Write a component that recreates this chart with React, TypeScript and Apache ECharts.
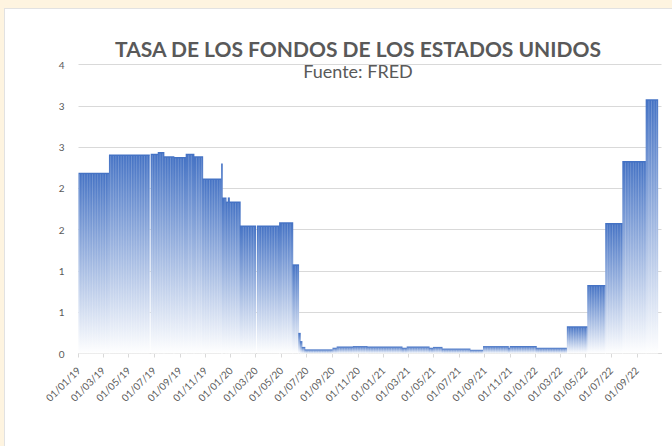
import React, { useEffect, useRef } from "react";
import * as echarts from "echarts";

const chartTitle = "TASA DE LOS FONDOS DE LOS ESTADOS UNIDOS";
const chartSubtitle = "Fuente: FRED";

const xTickLabels = [
  "01/01/19", "01/03/19", "01/05/19", "01/07/19", "01/09/19", "01/11/19",
  "01/01/20", "01/03/20", "01/05/20", "01/07/20", "01/09/20", "01/11/20",
  "01/01/21", "01/03/21", "01/05/21", "01/07/21", "01/09/21", "01/11/21",
  "01/01/22", "01/03/22", "01/05/22", "01/07/22", "01/09/22",
];

const axisStart = "2019-01-01";
const axisEnd = "2022-10-30";

const periodStart = [
  "2019-01-01", "2019-03-15", "2019-06-23", "2019-07-10", "2019-07-24", "2019-08-17",
  "2019-09-15", "2019-10-04", "2019-10-25", "2019-12-09", "2019-12-11", "2019-12-20",
  "2019-12-25", "2019-12-28", "2020-01-23", "2020-03-04", "2020-04-26", "2020-05-28",
  "2020-06-11", "2020-06-15", "2020-06-19", "2020-06-26", "2020-09-01", "2020-09-11",
  "2020-10-20", "2020-11-22", "2021-02-14", "2021-02-26", "2021-04-20", "2021-04-30",
  "2021-05-21", "2021-07-27", "2021-08-28", "2021-10-27", "2021-10-31", "2022-01-02",
  "2022-03-17", "2022-05-05", "2022-06-17", "2022-07-28", "2022-09-22",
];
const periodEnd = [
  "2019-03-15", "2019-06-21", "2019-07-10", "2019-07-24", "2019-08-17", "2019-09-15",
  "2019-10-04", "2019-10-25", "2019-12-09", "2019-12-11", "2019-12-20", "2019-12-25",
  "2019-12-28", "2020-01-23", "2020-03-02", "2020-04-26", "2020-05-28", "2020-06-11",
  "2020-06-15", "2020-06-19", "2020-06-26", "2020-09-01", "2020-09-11", "2020-10-20",
  "2020-11-22", "2021-02-14", "2021-02-26", "2021-04-20", "2021-04-30", "2021-05-21",
  "2021-07-27", "2021-08-28", "2021-10-27", "2021-10-31", "2022-01-02", "2022-03-17",
  "2022-05-05", "2022-06-17", "2022-07-28", "2022-09-22", "2022-10-22",
];
const rate = [
  2.19, 2.41, 2.42, 2.44, 2.39, 2.38,
  2.42, 2.39, 2.12, 2.30, 1.89, 1.84,
  1.89, 1.84, 1.55, 1.55, 1.59, 1.08,
  0.25, 0.15, 0.08, 0.05, 0.07, 0.085,
  0.09, 0.085, 0.07, 0.085, 0.07, 0.08,
  0.06, 0.045, 0.09, 0.07, 0.09, 0.07,
  0.33, 0.83, 1.58, 2.33, 3.08,
];

const yMin = 0;
const yMax = 3.5;
const yInterval = 0.5;

function isoTs(s: string): number {
  const [y, m, d] = s.split("-").map(Number);
  return Date.UTC(y, m - 1, d);
}
function labelTs(s: string): number {
  const [d, m, y] = s.split("/").map(Number);
  return Date.UTC(2000 + y, m - 1, d);
}

export default function App() {
  const ref = useRef<HTMLDivElement>(null);

  useEffect(() => {
    if (!ref.current) return;
    const chart = echarts.init(ref.current, undefined, { renderer: "svg" });
    const tickValues = xTickLabels.map(labelTs);
    const labelMap = new Map<number, string>();
    xTickLabels.forEach((l) => labelMap.set(labelTs(l), l));
    const data = rate.map((v, i) => [isoTs(periodStart[i]), isoTs(periodEnd[i]), v]);
    const stripeStep = 2.6;

    chart.setOption({
      animation: false,
      backgroundColor: "transparent",
      textStyle: { fontFamily: "Lato" },
      graphic: [
        {
          type: "text",
          x: 358,
          y: 48,
          style: {
            text: chartTitle,
            font: "bold 21px Lato",
            fill: "#595959",
            align: "center",
            verticalAlign: "middle",
          },
        },
        {
          type: "text",
          x: 358,
          y: 71,
          style: {
            text: chartSubtitle,
            font: "18px Lato",
            fill: "#595959",
            align: "center",
            verticalAlign: "middle",
          },
        },
      ],
      grid: { left: 78.5, right: 10.5, top: 64.5, bottom: 92.5, containLabel: false },
      xAxis: {
        type: "value",
        min: isoTs(axisStart),
        max: isoTs(axisEnd),
        axisLine: { show: true, lineStyle: { color: "#D9D9D9", width: 1 } },
        axisTick: {
          show: true,
          customValues: tickValues,
          length: 4,
          lineStyle: { color: "#D9D9D9" },
        },
        axisLabel: {
          customValues: tickValues,
          rotate: 45,
          fontSize: 10,
          color: "#595959",
          fontFamily: "Lato",
          margin: 15,
          formatter: (v: number) => labelMap.get(v) ?? "",
        },
        splitLine: { show: false },
      },
      yAxis: {
        type: "value",
        min: yMin,
        max: yMax,
        interval: yInterval,
        axisLine: { show: false },
        axisTick: { show: false },
        axisLabel: {
          fontSize: 10,
          color: "#595959",
          fontFamily: "Lato",
          margin: 14,
          formatter: (v: number) => String(Math.round(v)),
        },
        splitLine: { lineStyle: { color: "#D9D9D9", width: 1 } },
      },
      series: [
        {
          type: "custom",
          data,
          encode: { x: [0, 1], y: 2 },
          renderItem: (params: any, api: any) => {
            const i = params.dataIndex;
            const s = api.coord([api.value(0), api.value(2)]);
            const e = api.coord([api.value(1), 0]);
            const origin = api.coord([isoTs(axisStart), 0]);
            const joined = i < periodStart.length - 1 && periodEnd[i] === periodStart[i + 1];
            const w = e[0] - s[0] + (joined ? 0.8 : 0);
            const h = e[1] - s[1];
            const children: any[] = [
              {
                type: "rect",
                shape: { x: s[0], y: s[1], width: w, height: h },
                style: {
                  fill: new echarts.graphic.LinearGradient(0, 0, 0, 1, [
                    { offset: 0, color: "#4472C4" },
                    { offset: 1, color: "#FFFFFF" },
                  ]),
                },
              },
            ];
            const k0 = Math.ceil((s[0] - origin[0]) / stripeStep);
            for (let k = k0; origin[0] + k * stripeStep < e[0]; k++) {
              const x = origin[0] + k * stripeStep + 1;
              if (x >= e[0]) break;
              children.push({
                type: "line",
                shape: { x1: x, y1: s[1] + 1.5, x2: x, y2: e[1] },
                style: { stroke: "rgba(255,255,255,0.28)", lineWidth: 0.7 },
                silent: true,
              });
            }
            return { type: "group", children };
          },
        },
      ],
    });
    return () => chart.dispose();
  }, []);

  return (
    <div
      style={{
        position: "fixed",
        left: 0,
        top: 0,
        width: 672,
        height: 446,
        background: "#FEF4E0",
        overflow: "hidden",
      }}
    >
      <div
        style={{
          position: "absolute",
          left: 4,
          top: 8,
          width: 720,
          height: 500,
          background: "#FFFFFF",
          border: "1px solid #E2E2E2",
        }}
      />
      <div ref={ref} style={{ position: "absolute", left: 0, top: 0, width: 672, height: 446 }} />
    </div>
  );
}
